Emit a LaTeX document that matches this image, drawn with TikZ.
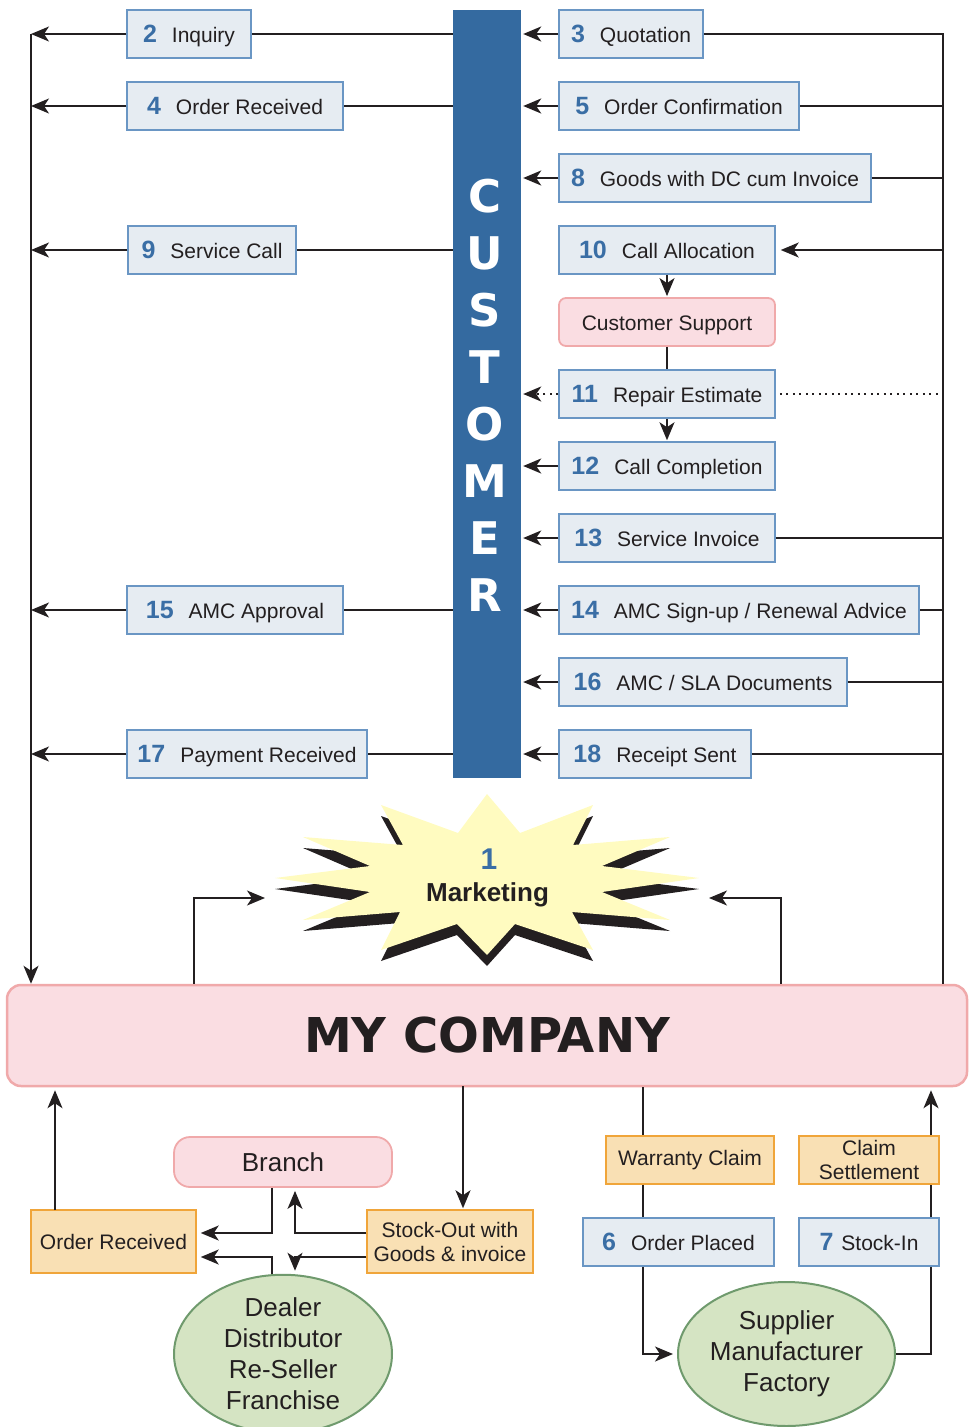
\documentclass[tikz,border=0pt]{standalone}
\usepackage{fontspec}
\setmainfont{Liberation Sans}
\newfontfamily\heavyfont{DejaVu Sans}
\usetikzlibrary{arrows.meta,shapes.geometric}
\definecolor{custblue}{HTML}{346AA0}
\definecolor{numblue}{HTML}{3A6EA5}
\definecolor{bxfill}{HTML}{E6ECF2}
\definecolor{bxdraw}{HTML}{6A96C4}
\definecolor{pkfill}{HTML}{FADDE2}
\definecolor{pkdraw}{HTML}{F0A9AA}
\definecolor{obfill}{HTML}{F9E0B4}
\definecolor{obdraw}{HTML}{F0A53A}
\definecolor{elfill}{HTML}{D5E4C3}
\definecolor{eldraw}{HTML}{6F9A6D}
\definecolor{starfill}{HTML}{FFFBC0}
\definecolor{linecol}{HTML}{231F20}
\newcommand\nm[1]{{\fontsize{25}{25}\selectfont\bfseries\color{numblue}#1}\hspace{15pt}}
\begin{document}
\begin{tikzpicture}[x=1pt,y=-1pt,
  ln/.style={line width=1.8pt, draw=linecol},
  arr/.style={ln, -{Stealth[length=18pt,width=15pt,inset=5pt]}},
  dots/.style={dash pattern=on 2pt off 4.5pt},
  bx/.style={draw=bxdraw, fill=bxfill, line width=1.5pt, minimum height=48pt, inner sep=0pt,
    text height=19.5pt, text depth=3.5pt, font=\fontsize{21}{25}\selectfont, text=linecol},
  pk/.style={draw=pkdraw, fill=pkfill, line width=1.8pt, inner sep=0pt, text=linecol},
  ob/.style={draw=obdraw, fill=obfill, line width=1.5pt, inner sep=0pt, align=center,
    font=\fontsize{21}{24}\selectfont, text=linecol},
  el/.style={ellipse, draw=eldraw, fill=elfill, line width=2pt, inner sep=0pt, align=center,
    minimum height=144pt, font=\fontsize{26}{31}\selectfont, text=linecol}
]
\useasboundingbox (0,0) rectangle (973,1427);

% Marketing starburst
\fill[linecol, shift={(0,11)}] (487,794) -- (520,833) -- (593,805) -- (573,845) -- (670,837) -- (602,866) -- (699,878) -- (602,892) -- (670,920) -- (572,912) -- (593,950) -- (515,924) -- (487,955) -- (457,924) -- (381,950) -- (400,912) -- (303,920) -- (370,892) -- (275,878) -- (370,866) -- (303,837) -- (403,845) -- (381,805) -- (458,833) -- cycle;
\fill[starfill] (487,794) -- (520,833) -- (593,805) -- (573,845) -- (670,837) -- (602,866) -- (699,878) -- (602,892) -- (670,920) -- (572,912) -- (593,950) -- (515,924) -- (487,955) -- (457,924) -- (381,950) -- (400,912) -- (303,920) -- (370,892) -- (275,878) -- (370,866) -- (303,837) -- (403,845) -- (381,805) -- (458,833) -- cycle;
\node[inner sep=0pt, font=\fontsize{30}{30}\selectfont\bfseries, text=numblue] (mk1) at (489,859) {1};
\node[inner sep=0pt, font=\fontsize{26}{26}\selectfont\bfseries, text=linecol] (mk) at (487.5,895) {Marketing};
\coordinate (slt) at (265,898);
\coordinate (srt) at (709,898);

% Customer bar
\node[fill=custblue, minimum width=68pt, minimum height=768pt, inner sep=0pt] (cust) at (487,394) {};
\node[inner sep=0pt, align=center, text=white, font=\heavyfont\bfseries\fontsize{45}{57}\selectfont] (custtxt) at (485,395) {C\\U\\S\\T\\O\\M\\E\\R};

% Company
\node[pk, line width=2.5pt, rounded corners=14pt, minimum width=960pt, minimum height=101pt,
  font=\heavyfont\bfseries\fontsize{48}{48}\selectfont] (comp) at (487,1035.5) {MY COMPANY};

% Left boxes
\node[bx, minimum width=124pt] (n2) at (189,34) {\nm{2}Inquiry};
\node[bx, minimum width=216pt] (n4) at (235,106) {\nm{4}Order Received};
\node[bx, minimum width=168pt] (n9) at (212,250) {\nm{9}Service Call};
\node[bx, minimum width=216pt] (n15) at (235,610) {\nm{15}AMC Approval};
\node[bx, minimum width=240pt] (n17) at (247,754) {\nm{17}Payment Received};

% Right boxes
\node[bx, minimum width=144pt] (n3) at (631,34) {\nm{3}Quotation};
\node[bx, minimum width=240pt] (n5) at (679,106) {\nm{5}Order Confirmation};
\node[bx, minimum width=312pt] (n8) at (715,178) {\nm{8}Goods with DC cum Invoice};
\node[bx, minimum width=216pt] (n10) at (667,250) {\nm{10}Call Allocation};
\node[pk, rounded corners=7pt, minimum width=216pt, minimum height=48pt, text height=19.5pt, text depth=3.5pt,
  font=\fontsize{21}{25}\selectfont] (cs) at (667,322) {Customer Support};
\node[bx, minimum width=216pt] (n11) at (667,394) {\nm{11}Repair Estimate};
\node[bx, minimum width=216pt] (n12) at (667,466) {\nm{12}Call Completion};
\node[bx, minimum width=216pt] (n13) at (667,538) {\nm{13}Service Invoice};
\node[bx, minimum width=360pt] (n14) at (739,610) {\nm{14}AMC Sign-up / Renewal Advice};
\node[bx, minimum width=288pt] (n16) at (703,682) {\nm{16}AMC / SLA Documents};
\node[bx, minimum width=192pt] (n18) at (655,754) {\nm{18}Receipt Sent};

% Bottom nodes
\node[ob, minimum width=165pt, minimum height=63pt] (ordrec) at (113.5,1241.5) {Order Received};
\node[pk, rounded corners=16pt, minimum width=218pt, minimum height=50pt, font=\fontsize{26}{30}\selectfont] (branch) at (283,1162) {Branch};
\node[ob, minimum width=166pt, minimum height=63pt] (stock) at (450,1241.5) {Stock-Out with\\Goods \& invoice};
\node[el, minimum width=218pt] (dealer) at (283,1354) {Dealer\\Distributor\\Re-Seller\\Franchise};
\node[ob, minimum width=168pt, minimum height=48pt] (warr) at (690,1160) {Warranty Claim};
\node[ob, minimum width=140pt, minimum height=48pt] (claim) at (869,1160) {Claim\\Settlement};
\node[bx, minimum width=191pt] (n6) at (678.5,1242) {\nm{6}Order Placed};
\node[bx, minimum width=140pt] (n7) at (869,1242) {{\fontsize{25}{25}\selectfont\bfseries\color{numblue}7}\hspace{8pt}Stock-In};
\node[el, minimum width=217pt] (supp) at (786.5,1354) {Supplier\\Manufacturer\\Factory};

% Left collector line
\coordinate (ltop) at (31,34);
\draw[arr] (ltop) -- (ltop |- comp.north);
\foreach \n in {n2,n4,n9,n15,n17}{
  \draw[ln] (cust.west |- \n.east) -- (\n.east);
  \draw[arr] (\n.west) -- (\n.west -| ltop);
}

% Right collector line
\coordinate (rtop) at (943,34);
\draw[ln] (n3.east) -- (rtop) -- (rtop |- comp.north);
\foreach \n in {n5,n8,n13,n14,n16,n18}{
  \draw[ln] (\n.east) -- (\n.east -| rtop);
}
\foreach \n in {n3,n5,n8,n12,n13,n14,n16,n18}{
  \draw[arr, shorten >=2pt] (\n.west) -- (\n.west -| cust.east);
}
\draw[arr, shorten >=5pt] (n10.east -| rtop) -- (n10.east);
\draw[arr, shorten >=1pt] (n10.south) -- (cs.north);
\draw[ln] (cs.south) -- (n11.north);
\draw[arr, shorten >=1pt] (n11.south) -- (n12.north);
\draw[ln, dots, shorten <=4pt, shorten >=4pt] (n11.east) -- (n11.east -| rtop);
\draw[arr, dots, shorten >=2pt] (n11.west) -- (n11.west -| cust.east);

% Marketing feeds
\coordinate (sl) at (194,898);
\coordinate (sr) at (781,898);
\draw[arr] (sl |- comp.north) -- (sl) -- (slt);
\draw[arr] (sr |- comp.north) -- (sr) -- (srt);

% Bottom left connectors
\coordinate (oru) at (55,1210);
\draw[arr, shorten >=3pt] (oru) -- (oru |- comp.south);
\coordinate (bA) at (272,1233);
\draw[arr, shorten >=4pt] (branch.south -| bA) -- (bA) -- (bA -| ordrec.east);
\coordinate (dA) at (272,1257);
\draw[arr, shorten >=4pt] (dA |- dealer.north) -- (dA) -- (dA -| ordrec.east);
\coordinate (sA) at (295,1233);
\draw[arr, shorten >=3pt] (stock.west |- sA) -- (sA) -- (sA |- branch.south);
\coordinate (sB) at (295,1257);
\draw[arr, shorten >=3pt] (stock.west |- sB) -- (sB) -- (sB |- dealer.north);
\coordinate (cA) at (463,1086);
\draw[arr, shorten >=1pt] (cA) -- (cA |- stock.north);

% Bottom right connectors
\coordinate (wA) at (643,1354);
\draw[ln] (wA |- comp.south) -- (wA |- warr.north);
\draw[ln] (wA |- warr.south) -- (wA |- n6.north);
\draw[arr, shorten >=4pt] (wA |- n6.south) -- (wA) -- (supp.west);
\coordinate (sR) at (931,1354);
\draw[ln] (supp.east) -- (sR) -- (sR |- n7.south);
\draw[ln] (sR |- n7.north) -- (sR |- claim.south);
\draw[arr, shorten >=3pt] (sR |- claim.north) -- (sR |- comp.south);
\end{tikzpicture}
\end{document}
